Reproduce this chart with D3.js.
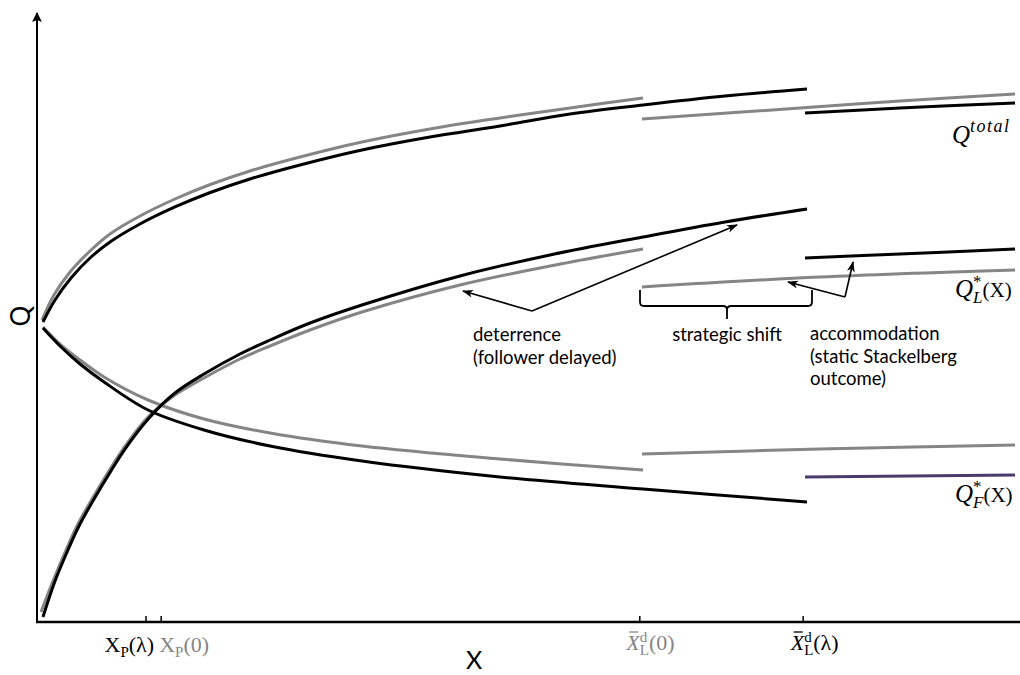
<!DOCTYPE html>
<html><head><meta charset="utf-8">
<script src="https://cdn.jsdelivr.net/npm/d3@7"></script>
<style>body{margin:0;background:#fff} svg{display:block}</style>
</head><body>
<svg id="c" width="1020" height="675"></svg>
<script>
// ---------------- data (abstract units: X 0..100, Q 0..100) ----------------
const tickValues = [11.07, 12.62, 61.46, 78.13];

// deterrence region (left segments)
const qTotalDeterLambda = [[0.61,50.0],[1.84,53.67],[3.47,57.33],[5.41,60.67],[7.45,63.33],[10.51,66.33],[14.08,69.17],[17.55,71.5],[21.73,73.83],[26.84,76.17],[33.16,78.67],[40.10,80.83],[47.24,82.67],[54.39,84.67],[61.84,86.17],[70.20,87.67],[78.57,88.83]];
const qTotalDeter0      = [[0.51,50.33],[1.73,54.5],[3.37,58.33],[5.41,61.83],[7.45,64.67],[10.51,67.67],[14.08,70.5],[17.55,72.83],[21.73,75.17],[26.84,77.5],[33.16,80.0],[40.10,82.17],[47.24,84.0],[54.39,85.67],[61.84,87.33]];
const qLeaderDeterLambda = [[0.61,0.83],[1.84,6.83],[3.16,12.0],[4.39,16.33],[6.43,22.17],[8.98,28.83],[11.53,34.17],[14.08,38.17],[17.04,41.33],[20.71,44.67],[23.78,47.0],[27.86,49.83],[33.16,52.83],[43.16,57.67],[52.35,61.17],[61.84,64.17],[70.20,66.67],[78.57,68.83]];
const qLeaderDeter0      = [[0.41,1.67],[1.63,6.83],[2.96,12.0],[4.18,16.33],[6.22,22.17],[8.78,28.83],[11.33,34.17],[14.08,37.83],[17.04,40.67],[20.71,43.83],[23.78,46.0],[27.86,48.67],[33.16,51.67],[43.16,56.17],[52.35,59.33],[61.84,62.17]];
const qFollowerDeterLambda = [[0.61,49.0],[2.35,46.0],[4.39,43.0],[6.84,40.0],[11.33,35.33],[17.04,32.0],[23.78,29.33],[33.16,26.83],[47.24,24.17],[61.84,22.17],[78.57,20.0]];
const qFollowerDeter0      = [[0.61,49.17],[2.35,46.33],[4.39,43.67],[6.84,40.83],[11.33,37.0],[17.04,33.83],[23.78,31.5],[33.16,29.33],[47.24,27.17],[61.84,25.33]];

// accommodation region (right segments)
const qTotalAccomLambda = [[78.37,84.83],[88.06,85.67],[99.8,86.5]];
const qTotalAccom0      = [[61.73,83.83],[77.86,85.67],[88.06,86.83],[99.8,88.0]];
const qLeaderAccomLambda = [[78.37,60.67],[88.06,61.33],[99.8,62.17]];
const qLeaderAccom0      = [[61.73,55.83],[79.9,57.5],[99.8,58.67]];
const qFollowerAccomLambda = [[78.37,24.17],[99.8,24.5]];
const qFollowerAccom0      = [[61.73,28.0],[79.9,28.83],[99.8,29.5]];

// annotation anchors (data units)
const deterArrow = {from:[50.51,51.83], to:[[43.47,55.17],[71.43,66.17]]};
const accomArrow = {from:[82.45,54.17], to:[[76.63,56.67],[83.27,60.0]]};
const brace = {left:61.53, right:79.08, mid:70.41, top:55.33, bar:52.67, tip:50.5};

// ---------------- drawing ----------------
const GREY = "#858585", BLACK = "#000", PURPLE = "#4a3a6c";
const svg = d3.select("#c");
const x = d3.scaleLinear().domain([0,100]).range([37,1017]);
const y = d3.scaleLinear().domain([0,100]).range([622,22]);

const defs = svg.append("defs");
defs.append("marker").attr("id","ah").attr("markerUnits","userSpaceOnUse")
  .attr("markerWidth",12).attr("markerHeight",10).attr("refX",10).attr("refY",4)
  .attr("orient","auto")
  .append("path").attr("d","M0,0 L11,4 L0,8 L3,4 Z").attr("fill","#000");
defs.append("marker").attr("id","yah").attr("markerUnits","userSpaceOnUse")
  .attr("markerWidth",14).attr("markerHeight",12).attr("refX",9).attr("refY",5)
  .attr("orient","auto")
  .append("path").attr("d","M0,0 L10,5 L0,10 L2,5 Z").attr("fill","#000");

// axes
const xAxis = d3.axisBottom(x).tickValues(tickValues).tickSize(-6).tickSizeOuter(0).tickFormat("");
const gx = svg.append("g").attr("transform",`translate(0,${y(0)})`).call(xAxis);
gx.select(".domain").remove();
gx.selectAll(".tick line").attr("stroke","#000").attr("stroke-width",1.5);
svg.append("line").attr("x1",x(0)-1).attr("x2",1020).attr("y1",y(0)).attr("y2",y(0))
  .attr("stroke","#000").attr("stroke-width",2.5);
const yAxis = d3.axisLeft(y).tickValues([]).tickSizeOuter(0);
const gy = svg.append("g").attr("transform",`translate(${x(0)},0)`).call(yAxis);
gy.select(".domain").remove();
svg.append("line").attr("x1",x(0)).attr("x2",x(0)).attr("y1",y(0)+1).attr("y2",13)
  .attr("stroke","#000").attr("stroke-width",2).attr("marker-end","url(#yah)");

// curves
const line = d3.line().x(d=>x(d[0])).y(d=>y(d[1])).curve(d3.curveCatmullRom.alpha(0.5));
const series = [
  {d:qTotalDeter0,c:GREY},{d:qLeaderDeter0,c:GREY},{d:qFollowerDeter0,c:GREY},
  {d:qTotalAccom0,c:GREY},{d:qLeaderAccom0,c:GREY},{d:qFollowerAccom0,c:GREY},
  {d:qTotalDeterLambda,c:BLACK},{d:qLeaderDeterLambda,c:BLACK},{d:qFollowerDeterLambda,c:BLACK},
  {d:qTotalAccomLambda,c:BLACK},{d:qLeaderAccomLambda,c:BLACK},{d:qFollowerAccomLambda,c:PURPLE}
];
svg.append("g").selectAll("path").data(series).join("path")
  .attr("d",s=>line(s.d)).attr("fill","none").attr("stroke",s=>s.c)
  .attr("stroke-width",3).attr("stroke-linecap","butt");

// annotation arrows
const ann = svg.append("g").attr("stroke","#000").attr("stroke-width",1.6).attr("fill","none");
[deterArrow, accomArrow].forEach(a=>{
  a.to.forEach(t=>{
    ann.append("line").attr("x1",x(a.from[0])).attr("y1",y(a.from[1]))
      .attr("x2",x(t[0])).attr("y2",y(t[1])).attr("marker-end","url(#ah)");
  });
});
// brace
{
  const L=x(brace.left), R=x(brace.right), M=x(brace.mid), T=y(brace.top), B=y(brace.bar), P=y(brace.tip), r=4;
  const p = d3.path();
  p.moveTo(L,T); p.lineTo(L,B-r); p.quadraticCurveTo(L,B,L+r,B); p.lineTo(M-r,B);
  p.quadraticCurveTo(M,B,M,B+r); p.lineTo(M,P);
  p.moveTo(M,B+r); p.quadraticCurveTo(M,B,M+r,B); p.lineTo(R-r,B); p.quadraticCurveTo(R,B,R,B-r); p.lineTo(R,T);
  ann.append("path").attr("d",p.toString()).attr("stroke-width",1.8);
}

// annotation text
const SANS = "Lato, 'Open Sans', sans-serif";
const txt = svg.append("g").attr("font-family",SANS).attr("font-size",18.5).attr("fill","#000");
const addLines = (x0,y0,lines,anchor)=>lines.forEach((l,i)=>txt.append("text").attr("x",x0).attr("y",y0+i*22.5).attr("text-anchor",anchor||"start").text(l));
addLines(473,341,["deterrence","(follower delayed)"]);
addLines(x(brace.mid),341,["strategic shift"],"middle");
addLines(810,340,["accommodation","(static Stackelberg","outcome)"]);

// axis titles
svg.append("text").attr("font-family",SANS).attr("font-size",26).attr("text-anchor","middle")
  .attr("transform",`translate(30,316) rotate(-90)`).text("Q");
svg.append("text").attr("font-family",SANS).attr("font-size",25).attr("text-anchor","middle")
  .attr("x",474).attr("y",669).text("X");

// math-like labels: one <text> per label, pieces as positioned tspans
const SERIF = "'Liberation Serif', 'Times New Roman', serif";
function mathLabel(x0, base, pieces, color){
  const g = svg.append("g").attr("font-family",SERIF).attr("fill",color);
  const widths = pieces.map(p=>{
    const t = g.append("text").attr("font-size",p.size).attr("font-style",p.it?"italic":"normal")
      .attr("letter-spacing",p.ls||0).text(p.t);
    const w = t.node().getComputedTextLength();
    t.remove(); return w;
  });
  const text = g.append("text");
  let cx = x0, prevX = x0, prevW = 0;
  pieces.forEach((p,i)=>{
    const w = widths[i];
    const px = p.stack ? prevX : cx;
    text.append("tspan").attr("x",px).attr("y",base+(p.dy||0))
      .attr("font-size",p.size).attr("font-style",p.it?"italic":"normal")
      .attr("letter-spacing",p.ls||0).text(p.t);
    if (p.bar) g.append("line").attr("x1",px+p.bar[0]).attr("x2",px+p.bar[1])
      .attr("y1",base-p.bar[2]).attr("y2",base-p.bar[2]).attr("stroke",color).attr("stroke-width",1.3);
    if (p.stack){ prevW = Math.max(prevW,w); cx = prevX + prevW; }
    else { prevX = px; prevW = w; cx = px + w; }
  });
}
// tick labels
mathLabel(x(tickValues[0])-41, 652, [{t:"X",size:22},{t:"P",size:15,dy:5},{t:"(λ)",size:22}], "#000");
mathLabel(x(tickValues[1])-1.5, 652, [{t:"X",size:22},{t:"P",size:15,dy:5},{t:"(0)",size:22}], GREY);
mathLabel(x(tickValues[2])-13, 650, [{t:"X",size:22,it:true,bar:[3,12,18]},{t:"L",size:15,dy:5},{t:"d",size:15,dy:-8,stack:true},{t:"(0)",size:22}], GREY);
mathLabel(x(tickValues[3])-12, 650, [{t:"X",size:22,it:true,bar:[3,12,18]},{t:"L",size:15,dy:5},{t:"d",size:15,dy:-8,stack:true},{t:"(λ)",size:22}], "#000");
// curve labels
mathLabel(952, 143, [{t:"Q",size:25,it:true},{t:"total",size:18,it:true,dy:-11,ls:1.5}], "#000");
mathLabel(955, 297, [{t:"Q",size:25,it:true},{t:"L",size:17,it:true,dy:6},{t:"*",size:17,dy:-10,stack:true},{t:"(X)",size:21}], "#000");
mathLabel(955, 502, [{t:"Q",size:25,it:true},{t:"F",size:17,it:true,dy:6},{t:"*",size:17,dy:-10,stack:true},{t:"(X)",size:21}], "#000");
</script>
</body></html>
